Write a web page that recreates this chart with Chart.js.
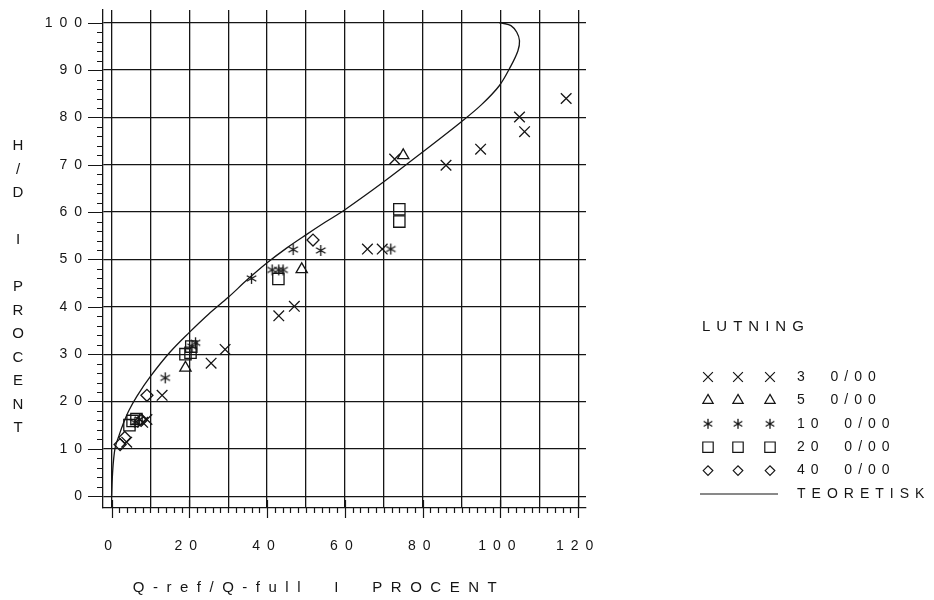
<!DOCTYPE html>
<html lang="no">
<head>
  <meta charset="UTF-8">
  <title>H/D i procent mot Q-ref/Q-full</title>
  <script src="https://cdn.jsdelivr.net/npm/chart.js"></script>
  <style>
    html, body { margin: 0; padding: 0; background: #fff; }
    #wrap { width: 934px; height: 600px; }
  </style>
</head>
<body>
  <div id="wrap"><canvas id="chart" width="934" height="600"></canvas></div>

  <script>
    // axis ticks
    const xGrid = [0, 10, 20, 30, 40, 50, 60, 70, 80, 90, 100, 110, 120];
    const xLabels = [0, 20, 40, 60, 80, 100, 120];
    const yGrid = [0, 10, 20, 30, 40, 50, 60, 70, 80, 90, 100];

    // measured points per slope (x = Q-ref/Q-full %, y = H/D %)
    const lut3X = [3.9, 8.0, 9.1, 13.0, 25.6, 29.2, 43.0, 47.0, 65.8, 69.6, 72.8, 86.0, 94.9, 104.9, 106.2, 116.9];
    const lut3Y = [11.4, 15.6, 16.2, 21.3, 28.1, 31.0, 38.1, 40.1, 52.2, 52.2, 71.2, 69.9, 73.3, 80.1, 77.0, 84.0];
    const lut5X = [19.0, 48.9, 75.0];
    const lut5Y = [27.1, 47.9, 72.0];
    const lut10X = [6.0, 7.2, 13.8, 20.7, 21.6, 36.0, 41.3, 43.0, 44.1, 46.7, 53.8, 71.8];
    const lut10Y = [15.6, 16.2, 25.0, 31.6, 32.4, 46.0, 47.8, 47.8, 47.8, 52.1, 51.9, 52.2];
    const lut20X = [4.6, 5.4, 6.4, 19.0, 20.3, 20.5, 42.9, 74.0, 74.0];
    const lut20Y = [15.0, 15.9, 16.3, 30.0, 30.3, 31.6, 45.9, 60.6, 58.0];
    const lut40X = [2.2, 3.4, 7.6, 9.1, 51.8];
    const lut40Y = [10.9, 12.4, 16.0, 21.3, 54.1];

    // theoretical curve
    const teoX = [0, 0.2, 0.5, 1, 2, 3, 4.4, 6.5, 10, 15, 20, 25, 30, 35, 40, 45, 50, 55, 60, 70, 80, 89.8, 95, 99.7, 102.7, 104.5, 104.9, 104.2, 102.7, 100.6, 99.7];
    const teoY = [0, 4, 7.5, 10.5, 13, 15.3, 18, 21.1, 25.3, 30.4, 34.6, 38.5, 42.0, 45.8, 49.3, 52.4, 55.2, 57.9, 60.5, 66.4, 72.7, 79, 82.6, 86.7, 90.9, 94.1, 96.2, 98, 99.4, 99.9, 100];

    const FONT = "'Liberation Sans', Arial, sans-serif";
    const INK = '#151515';

    const toPoints = (xs, ys) => xs.map((x, i) => ({ x: x, y: ys[i] }));

    // six-armed asterisk, the built-in 'star' has eight arms
    function asterisk(r) {
      const c = document.createElement('canvas');
      const s = Math.ceil(r * 2 + 4);
      c.width = s; c.height = s;
      const g = c.getContext('2d');
      g.strokeStyle = INK;
      g.lineWidth = 1.3;
      g.beginPath();
      [90, 30, 150].forEach(deg => {
        const t = deg * Math.PI / 180;
        g.moveTo(s / 2 - Math.cos(t) * r, s / 2 - Math.sin(t) * r);
        g.lineTo(s / 2 + Math.cos(t) * r, s / 2 + Math.sin(t) * r);
      });
      g.stroke();
      return c;
    }
    const starBig = asterisk(5.5);
    const starSmall = asterisk(5);

    const marker = (label, xs, ys, style, r) => ({
      label: label,
      data: toPoints(xs, ys),
      showLine: false,
      pointStyle: style,
      pointRadius: r,
      pointHoverRadius: r,
      pointBorderWidth: 1.3,
      borderColor: INK,
      backgroundColor: 'rgba(0,0,0,0)'
    });

    const datasets = [
      marker('3  0/00', lut3X, lut3Y, 'crossRot', 7.5),
      marker('5  0/00', lut5X, lut5Y, 'triangle', 6.5),
      marker('10  0/00', lut10X, lut10Y, starBig, 5.5),
      marker('20  0/00', lut20X, lut20Y, 'rect', 8),
      marker('40  0/00', lut40X, lut40Y, 'rectRot', 6),
      {
        label: 'TEORETISK',
        data: toPoints(teoX, teoY),
        showLine: true,
        pointRadius: 0,
        borderColor: INK,
        borderWidth: 1.3,
        tension: 0.35,
        fill: false
      }
    ];

    // letter spacing for the tick labels (old plotter look)
    const spacing = {
      id: 'spacing',
      beforeLayout(chart) { chart.ctx.letterSpacing = '7px'; },
      beforeDraw(chart) { chart.ctx.letterSpacing = '7px'; }
    };

    // minor/major tick marks on both axes
    const tickMarks = {
      id: 'tickMarks',
      afterDraw(chart) {
        const ctx = chart.ctx;
        const xs = chart.scales.x, ys = chart.scales.y;
        const a = chart.chartArea;
        ctx.save();
        ctx.strokeStyle = INK;
        ctx.lineWidth = 1.2;
        ctx.beginPath();
        for (let v = 0; v <= 100; v += 2) {
          const py = Math.round(ys.getPixelForValue(v)) + 0.5;
          ctx.moveTo(a.left - (v % 10 === 0 ? 15 : 6), py);
          ctx.lineTo(a.left, py);
        }
        for (let v = 0; v <= 120; v += 2) {
          const px = Math.round(xs.getPixelForValue(v)) + 0.5;
          if (v % 20 === 0) {
            ctx.moveTo(px, a.bottom - 8);
            ctx.lineTo(px, a.bottom + 10);
          } else {
            ctx.moveTo(px, a.bottom);
            ctx.lineTo(px, a.bottom + 5);
          }
        }
        ctx.stroke();
        ctx.restore();
      }
    };

    // axis titles and the LUTNING legend
    const texts = {
      id: 'texts',
      afterDraw(chart) {
        const ctx = chart.ctx;
        const a = chart.chartArea;
        ctx.save();
        ctx.fillStyle = INK;
        ctx.textBaseline = 'middle';

        // vertical title, one letter per row
        ctx.letterSpacing = '0px';
        ctx.textAlign = 'center';
        ctx.font = '15px ' + FONT;
        const yTitle = 'H/D I PROCENT';
        for (let i = 0; i < yTitle.length; i++) {
          ctx.fillText(yTitle[i], 18, 146 + i * 23.5);
        }

        // x title
        ctx.letterSpacing = '8.5px';
        ctx.fillText('Q-ref/Q-full  I  PROCENT', 319, 588);

        // legend
        const lx = a.right + 116;
        ctx.letterSpacing = '6px';
        ctx.textAlign = 'left';
        ctx.font = '15px ' + FONT;
        ctx.fillText('LUTNING', lx, 327);
        ctx.font = '14px ' + FONT;
        const rowY = 377, rowH = 23.4;
        chart.data.datasets.forEach((ds, i) => {
          const y = rowY + i * rowH;
          ctx.strokeStyle = INK;
          ctx.lineWidth = 1.2;
          if (ds.showLine) {
            ctx.beginPath();
            ctx.moveTo(lx - 2, y);
            ctx.lineTo(lx + 76, y);
            ctx.stroke();
          } else {
            const style = ds.pointStyle === starBig ? starSmall : ds.pointStyle;
            const r = ds.pointStyle === 'rectRot' ? ds.pointRadius * 0.8 : ds.pointRadius * 0.92;
            [6, 36, 68].forEach(dx => {
              ctx.fillStyle = 'rgba(0,0,0,0)';
              Chart.helpers.drawPoint(ctx, {
                pointStyle: style,
                radius: r,
                rotation: 0,
                borderWidth: 1.2
              }, lx + dx, y);
            });
          }
          ctx.fillStyle = INK;
          ctx.fillText(ds.label, lx + 95, y);
        });
        ctx.restore();
      }
    };

    new Chart(document.getElementById('chart'), {
      type: 'scatter',
      data: { datasets: datasets },
      plugins: [spacing, tickMarks, texts],
      options: {
        responsive: false,
        animation: false,
        events: [],
        layout: { padding: { top: 10, right: 348, left: 0, bottom: 0 } },
        plugins: {
          legend: { display: false },
          tooltip: { enabled: false }
        },
        scales: {
          x: {
            type: 'linear',
            min: -2.2,
            max: 122,
            afterFit: s => {
              s.height = 92;
              s.paddingLeft = 0; s.paddingRight = 0;
              s.paddingTop = 0; s.paddingBottom = 0;
            },
            afterBuildTicks: s => { s.ticks = xGrid.map(v => ({ value: v })); },
            grid: { color: INK, lineWidth: 1.3, drawTicks: false },
            border: { display: true, color: INK, width: 1.3 },
            ticks: {
              autoSkip: false,
              maxRotation: 0,
              padding: 30,
              color: INK,
              font: { family: FONT, size: 14 },
              callback: v => xLabels.includes(v) ? String(v) : ''
            }
          },
          y: {
            type: 'linear',
            min: -2.5,
            max: 102.7,
            afterFit: s => {
              s.width = 103;
              s.paddingLeft = 0; s.paddingRight = 0;
              s.paddingTop = 0; s.paddingBottom = 0;
            },
            afterBuildTicks: s => { s.ticks = yGrid.map(v => ({ value: v })); },
            grid: { color: INK, lineWidth: 1.3, drawTicks: false },
            border: { display: true, color: INK, width: 1.3 },
            ticks: {
              autoSkip: false,
              padding: 14,
              color: INK,
              font: { family: FONT, size: 14 },
              callback: v => String(v)
            }
          }
        }
      }
    });
  </script>
</body>
</html>
